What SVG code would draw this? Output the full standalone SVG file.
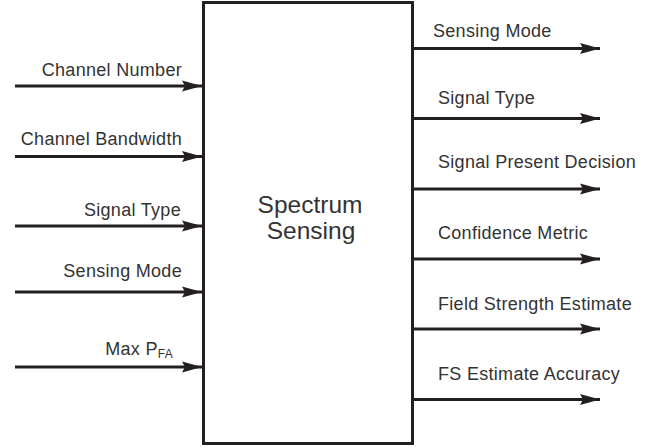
<svg xmlns="http://www.w3.org/2000/svg" width="655" height="447" viewBox="0 0 655 447">
<defs>
<marker id="ah" markerUnits="userSpaceOnUse" markerWidth="22" markerHeight="14" refX="20" refY="6" orient="auto" viewBox="0 0 22 12">
<path d="M0,0.5 L20,6 L0,11.5 L3,6 Z" fill="#231f20"/>
</marker>
<style>
.t{font-family:"Liberation Sans",Arial,sans-serif;font-size:18px;fill:#333;letter-spacing:0.3px}
.c{font-family:"Liberation Sans",Arial,sans-serif;font-size:24.5px;fill:#333;text-anchor:middle}
.l{stroke:#231f20;stroke-width:3;fill:none;marker-end:url(#ah)}
.r{text-anchor:end}
</style>
</defs>
<rect width="655" height="447" fill="#fff"/>
<g id="spectrum-sensing">
<rect x="203.5" y="2.5" width="209" height="441" fill="#fff" stroke="#231f20" stroke-width="3"/>
<text class="c" x="310" y="213">Spectrum</text>
<text class="c" x="311" y="239">Sensing</text>
</g>
<g id="connectors">
<line class="l" x1="15" y1="86" x2="202" y2="86"/>
<line class="l" x1="15" y1="156.5" x2="202" y2="156.5"/>
<line class="l" x1="15" y1="226" x2="202" y2="226"/>
<line class="l" x1="15" y1="292" x2="202" y2="292"/>
<line class="l" x1="15" y1="367" x2="202" y2="367"/>
<line class="l" x1="412" y1="48.5" x2="600" y2="48.5"/>
<line class="l" x1="412" y1="118.5" x2="600" y2="118.5"/>
<line class="l" x1="412" y1="189" x2="600" y2="189"/>
<line class="l" x1="412" y1="259" x2="600" y2="259"/>
<line class="l" x1="412" y1="329" x2="600" y2="329"/>
<line class="l" x1="412" y1="399.5" x2="600" y2="399.5"/>
</g>
<g id="labels">
<text class="t r" x="182" y="76">Channel Number</text>
<text class="t r" x="182" y="145">Channel Bandwidth</text>
<text class="t r" x="181" y="216">Signal Type</text>
<text class="t r" x="182" y="277">Sensing Mode</text>
<text class="t r" x="173" y="355">Max P<tspan font-size="12" dy="3">FA</tspan></text>
<text class="t" x="433" y="37">Sensing Mode</text>
<text class="t" x="438" y="104">Signal Type</text>
<text class="t" x="438" y="168">Signal Present Decision</text>
<text class="t" x="438" y="239">Confidence Metric</text>
<text class="t" x="438" y="310">Field Strength Estimate</text>
<text class="t" x="438" y="380">FS Estimate Accuracy</text>
</g>
</svg>
